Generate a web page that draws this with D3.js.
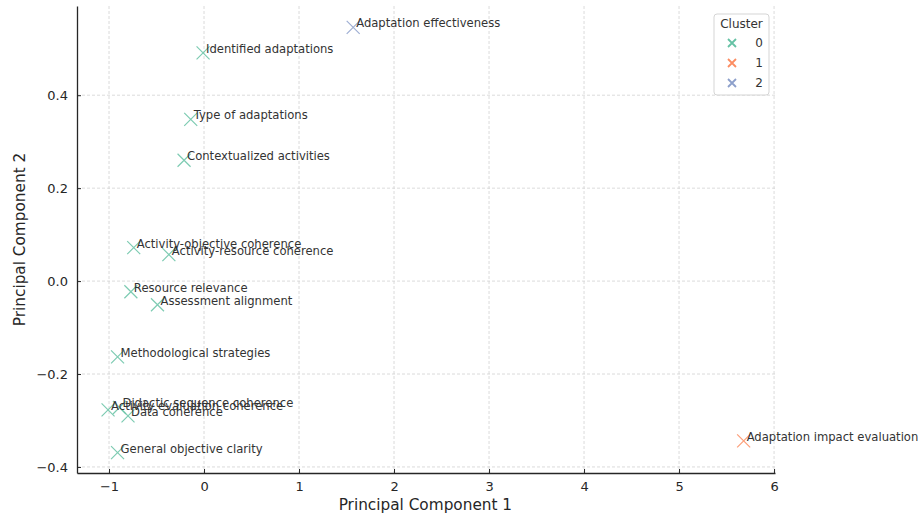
<!DOCTYPE html>
<html>
<head>
<meta charset="utf-8">
<script src="https://cdn.jsdelivr.net/npm/d3@7/dist/d3.min.js"></script>
<style>
  body { margin: 0; background: #fff; }
  svg { display: block; font-family: "DejaVu Sans", sans-serif; }
</style>
</head>
<body>
<svg id="chart" width="919" height="514"></svg>
<script>
// point labels, PCA coordinates and cluster ids
const names = [
  "Adaptation effectiveness", "Identified adaptations", "Type of adaptations",
  "Contextualized activities", "Activity-objective coherence", "Activity-resource coherence",
  "Resource relevance", "Assessment alignment", "Methodological strategies",
  "Activity evaluation coherence", "Didactic sequence coherence", "Data coherence",
  "General objective clarity", "Adaptation impact evaluation"
]
const pc1 = [1.57, -0.01, -0.14, -0.21, -0.74, -0.37, -0.77, -0.49, -0.91, -1.01, -0.89, -0.80, -0.91, 5.68]
const pc2 = [0.546, 0.491, 0.348, 0.260, 0.072, 0.057, -0.023, -0.051, -0.163, -0.277, -0.272, -0.290, -0.369, -0.344]
const cluster = [2, 0, 0, 0, 0, 0, 0, 0, 0, 0, 0, 0, 0, 1]

const clusterIds = [0, 1, 2]
const clusterColors = ["#66c2a5", "#fc8d62", "#8da0cb"]
const xTicks = [-1, 0, 1, 2, 3, 4, 5, 6]
const yTicks = [-0.4, -0.2, 0.0, 0.2, 0.4]

const svg = d3.select('#chart')
const margin = { left: 77, right: 144, top: 6, bottom: 41 }
const width = 919 - margin.left - margin.right
const height = 514 - margin.top - margin.bottom

const x = d3.scaleLinear().domain([-1.337, 6.01]).range([0, width])
const y = d3.scaleLinear().domain([-0.413, 0.592]).range([height, 0])
const color = d3.scaleOrdinal().domain(clusterIds).range(clusterColors)

const g = svg.append('g').attr('transform', `translate(${margin.left},${margin.top})`)

// grid
g.append('g').selectAll('line').data(xTicks).enter().append('line')
  .attr('x1', d => x(d)).attr('x2', d => x(d)).attr('y1', 0).attr('y2', height)
  .attr('stroke', '#d2d2d2').attr('stroke-width', 0.8).attr('stroke-dasharray', '3,2')
g.append('g').selectAll('line').data(yTicks).enter().append('line')
  .attr('y1', d => y(d)).attr('y2', d => y(d)).attr('x1', 0).attr('x2', width)
  .attr('stroke', '#d2d2d2').attr('stroke-width', 0.8).attr('stroke-dasharray', '3,2')

// axes, ticks pointing inward like the original
const minus = d => d3.format('.1f')(d).replace('-', '\u2212')
const xAxis = g.append('g').attr('transform', `translate(0,${height})`)
  .call(d3.axisBottom(x).tickValues(xTicks).tickSizeInner(-4).tickSizeOuter(0).tickPadding(9)
    .tickFormat(d => String(d).replace('-', '\u2212')))
const yAxis = g.append('g')
  .call(d3.axisLeft(y).tickValues(yTicks).tickSizeInner(-4).tickSizeOuter(0).tickPadding(9)
    .tickFormat(minus))
;[xAxis, yAxis].forEach(ax => {
  ax.select('.domain').attr('stroke', '#262626').attr('stroke-width', 1.3)
  ax.selectAll('.tick line').attr('stroke', '#262626').attr('stroke-width', 1)
  ax.selectAll('.tick text').attr('fill', '#262626').attr('font-size', '13px')
    .attr('font-family', '"DejaVu Sans", sans-serif')
})

// axis titles
svg.append('text').attr('x', margin.left + x(2.33)).attr('y', 510)
  .attr('text-anchor', 'middle').attr('font-size', '15.3px').attr('fill', '#262626')
  .text('Principal Component 1')
svg.append('text').attr('transform', `translate(25,${margin.top + height / 2}) rotate(-90)`)
  .attr('text-anchor', 'middle').attr('font-size', '15.3px').attr('fill', '#262626')
  .text('Principal Component 2')

// points
const pts = names.map((n, i) => ({ name: n, x: pc1[i], y: pc2[i], c: cluster[i] }))
const xMark = (sel, r) => sel.attr('d', `M${-r},${-r}L${r},${r}M${-r},${r}L${r},${-r}`)

g.append('g').selectAll('path').data(pts).enter().append('path')
  .attr('transform', d => `translate(${x(d.x)},${y(d.y)})`)
  .call(xMark, 6.5)
  .attr('fill', 'none').attr('stroke', d => color(d.c)).attr('stroke-width', 1.2).attr('opacity', 0.85)

g.append('g').selectAll('text').data(pts).enter().append('text')
  .attr('x', d => x(d.x) + 3).attr('y', d => y(d.y))
  .attr('font-size', '11.6px').attr('fill', '#333')
  .text(d => d.name)

// legend
const lg = svg.append('g').attr('transform', 'translate(714,14)')
lg.append('rect').attr('width', 55).attr('height', 81).attr('rx', 3)
  .attr('fill', '#fff').attr('fill-opacity', 0.8).attr('stroke', '#d5d5d5')
lg.append('text').attr('x', 27.5).attr('y', 14).attr('text-anchor', 'middle')
  .attr('font-size', '12px').attr('fill', '#333').text('Cluster')
const items = lg.selectAll('.item').data(clusterIds).enter().append('g')
  .attr('transform', (d, i) => `translate(18,${29 + i * 20})`)
items.append('path').call(xMark, 4).attr('fill', 'none')
  .attr('stroke', d => color(d)).attr('stroke-width', 1.8)
items.append('text').attr('x', 31).attr('y', 4).attr('text-anchor', 'end')
  .attr('font-size', '12px').attr('fill', '#333').text(d => d)
</script>
</body>
</html>
